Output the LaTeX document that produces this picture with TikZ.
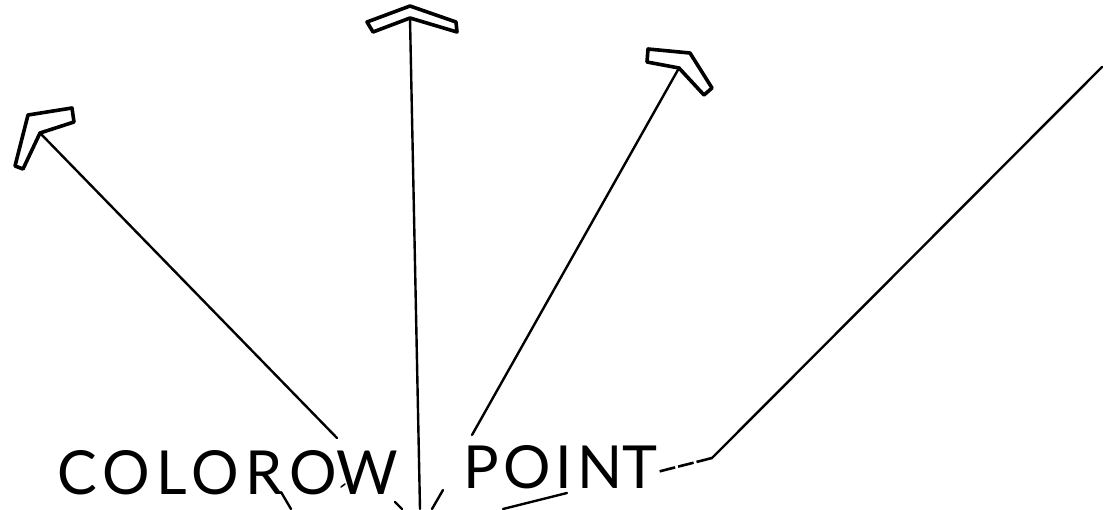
\documentclass[tikz,border=0pt]{standalone}
\usepackage{fontspec}
\setmainfont{Lato}
\usepackage{graphicx}
\begin{document}
\begin{tikzpicture}[x=1pt,y=-1pt,
  ray/.style={line width=2.4pt, line cap=round},
  chevron/.style={line width=3.6pt, line join=round, fill=white, draw=black},
  label/.style={inner sep=0pt, anchor=south west},
  stub/.style={line width=2.4pt, line cap=round},
  dashseg/.style={line width=2.6pt, dash pattern=on 16pt off 3pt}]
\useasboundingbox (0,0) rectangle (1109,509);
% text
\node[label] (colorow) at (57,495) {\resizebox{341pt}{44pt}{{\addfontfeature{LetterSpace=11}COLORO}W}};
\node[label] (point) at (463,489) {\resizebox{194pt}{43pt}{{\addfontfeature{LetterSpace=8}POIN}T}};
% ray end points
\coordinate (l1) at (40,133);   \coordinate (l1e) at (337,438);
\coordinate (v1) at (410,18);   \coordinate (v1e) at (420,509);
\coordinate (r1) at (679,68);   \coordinate (r1e) at (472,435);
\coordinate (r2) at (1102,67);  \coordinate (bend) at (712,458);
\coordinate (r2e) at (657,472);
% rays
\draw[ray] (l1) -- (l1e);
\draw[ray] (v1) -- (v1e);
\draw[ray] (r1) -- (r1e);
\draw[ray] (r2) -- (bend);
\draw[dashseg] (bend) -- (r2e);
% chevron heads
\draw[chevron] (28,115) -- (72,108) -- (74,122) -- (l1) -- (23,169) -- (15,166) -- cycle;
\draw[chevron] (410,6) -- (456,22) -- (457,32) -- (v1) -- (373,32) -- (367,22) -- cycle;
\draw[chevron] (648,49) -- (690,53) -- (712,88) -- (704,95) -- (r1) -- (647,62) -- cycle;
% short strokes at the bottom
\coordinate (a1) at (281,492); \coordinate (a2) at (291,509);
\coordinate (b1) at (395,502); \coordinate (b2) at (402,509);
\coordinate (c1) at (443,490); \coordinate (c2) at (432,509);
\coordinate (d1) at (567,493); \coordinate (d2) at (503,509);
\coordinate (e1) at (341,487); \coordinate (e2) at (345,484);
\draw[stub] (a1) -- (a2);
\draw[stub] (b1) -- (b2);
\draw[stub] (c1) -- (c2);
\draw[stub] (d1) -- (d2);
\draw[stub, line width=1.5pt] (e1) -- (e2);
\end{tikzpicture}
\end{document}
